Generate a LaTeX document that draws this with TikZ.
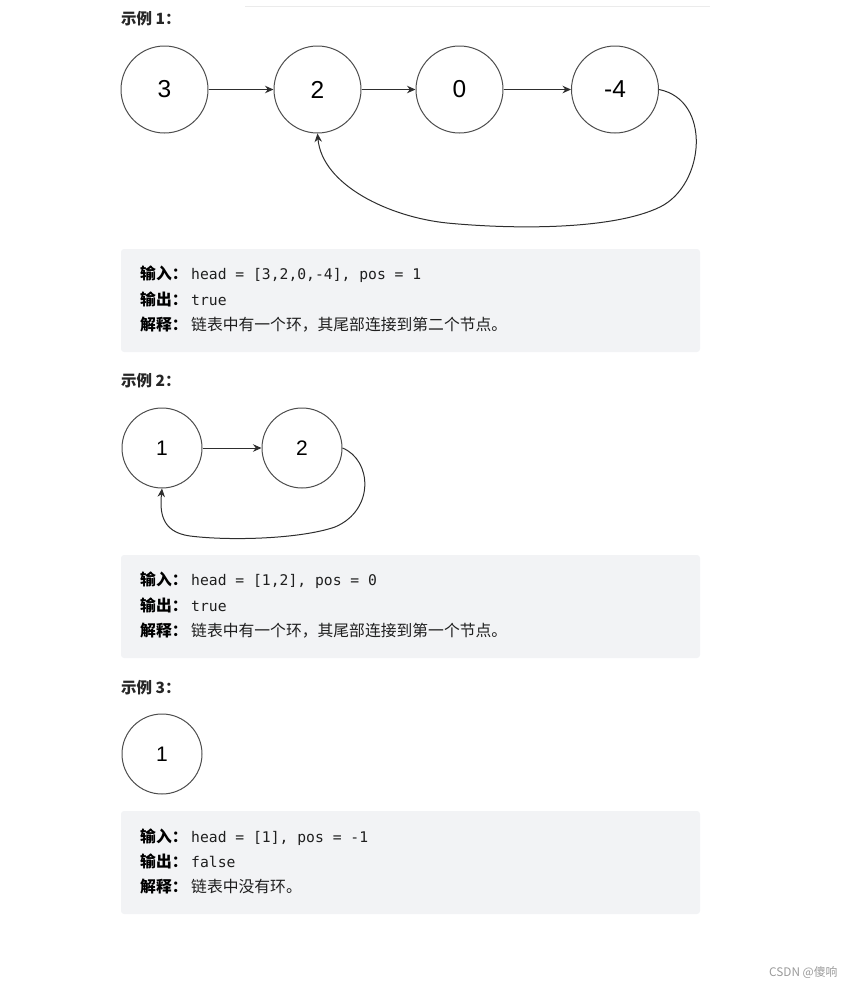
\documentclass[tikz,border=0pt]{standalone}
\usepackage{fontspec}
\setmainfont{Liberation Sans}
\newfontfamily\cjkfont{Noto Sans CJK SC}
\newfontfamily\codefont{DejaVu Sans Mono}
\usetikzlibrary{arrows.meta}
\definecolor{ringc}{HTML}{4D4D4D}
\definecolor{linkc}{HTML}{2E2E2E}
\definecolor{codebg}{HTML}{F2F3F5}
\definecolor{headc}{HTML}{262626}
\definecolor{textc}{HTML}{1F1F1F}
\definecolor{rulec}{HTML}{EBEBEB}
\definecolor{markc}{HTML}{9A9A9A}
\tikzset{
  listnode/.style={circle, draw=ringc, line width=1pt, minimum size=87pt, inner sep=0pt,
    font=\fontsize{24.5}{24.5}\selectfont, text=black},
  smallnode/.style={listnode, minimum size=80pt, font=\fontsize{21}{21}\selectfont},
  link/.style={draw=linkc, line width=1pt, -{Stealth[length=8.5pt,width=7.5pt]}},
  loop/.style={draw=linkc, line width=1pt, -{Stealth[length=8.5pt,width=7.5pt]}},
  codebox/.style={fill=codebg, rounded corners=3pt},
  heading/.style={anchor=base west, inner sep=0pt, font=\cjkfont\bfseries\fontsize{15.5}{15.5}\selectfont, text=headc},
  lbl/.style={anchor=base west, inner sep=0pt, font=\cjkfont\bfseries\fontsize{15.8}{15.8}\selectfont, text=black},
  codetxt/.style={anchor=base west, inner sep=0pt, font=\codefont\fontsize{14.7}{14.7}\selectfont, text=textc},
  expl/.style={anchor=base west, inner sep=0pt, font=\cjkfont\fontsize{15.8}{15.8}\selectfont, text=textc},
}
\begin{document}
\begin{tikzpicture}[x=1pt,y=-1pt]
\useasboundingbox (0,0) rectangle (851,988);
% top rule
\draw[rulec, line width=1pt] (245,6) -- (710,6);

% ---------- Example 1 ----------
\node[heading] (h1) at (121,24) {示例 1：};
\node[listnode] (a3) at (164.5,89.5) {3};
\node[listnode] (a2) at (317.5,89.5) {2};
\node[listnode] (a0) at (459.5,89.5) {0};
\node[listnode] (am4) at (615,89.5) {-4};
\draw[link] (a3) -- (a2);
\draw[link] (a2) -- (a0);
\draw[link] (a0) -- (am4);
\draw[loop] (am4.east) .. controls (712,100) and (705,185) .. (660,207)
  .. controls (615,229) and (520,230) .. (447,223)
  .. controls (389,217) and (322,185) .. (a2.south);

\fill[codebox] (121,249) rectangle (700,352);
\node[lbl] (l1a) at (140,279.5) {输入：};
\node[codetxt] (c1a) at (191,279.5) {head = [3,2,0,-4], pos = 1};
\node[lbl] (l1b) at (140,305.5) {输出：};
\node[codetxt] (c1b) at (191,305.5) {true};
\node[lbl] (l1c) at (140,330.5) {解释：};
\node[expl] (c1c) at (191,330.5) {链表中有一个环，其尾部连接到第二个节点。};

% ---------- Example 2 ----------
\node[heading] (h2) at (121,386) {示例 2：};
\node[smallnode] (b1) at (162,448) {1};
\node[smallnode] (b2) at (302,448) {2};
\draw[link] (b1) -- (b2);
\draw[loop] (b2.east) .. controls (372,460) and (375,510) .. (335,527)
  .. controls (300,539) and (230,541) .. (190,536)
  .. controls (160,532) and (160,510) .. (b1.south);

\fill[codebox] (121,555) rectangle (700,658);
\node[lbl] (l2a) at (140,585.5) {输入：};
\node[codetxt] (c2a) at (191,585.5) {head = [1,2], pos = 0};
\node[lbl] (l2b) at (140,611.5) {输出：};
\node[codetxt] (c2b) at (191,611.5) {true};
\node[lbl] (l2c) at (140,636.5) {解释：};
\node[expl] (c2c) at (191,636.5) {链表中有一个环，其尾部连接到第一个节点。};

% ---------- Example 3 ----------
\node[heading] (h3) at (121,693) {示例 3：};
\node[smallnode] (d1) at (162,754) {1};

\fill[codebox] (121,811) rectangle (700,914);
\node[lbl] (l3a) at (140,842.5) {输入：};
\node[codetxt] (c3a) at (191,842.5) {head = [1], pos = -1};
\node[lbl] (l3b) at (140,867.5) {输出：};
\node[codetxt] (c3b) at (191,867.5) {false};
\node[lbl] (l3c) at (140,892.5) {解释：};
\node[expl] (c3c) at (191,892.5) {链表中没有环。};

% watermark
\node[anchor=base west, inner sep=0pt, font=\cjkfont\fontsize{11.8}{11.8}\selectfont, text=markc] (wm) at (769,976.5) {CSDN @傻响};
\end{tikzpicture}
\end{document}
